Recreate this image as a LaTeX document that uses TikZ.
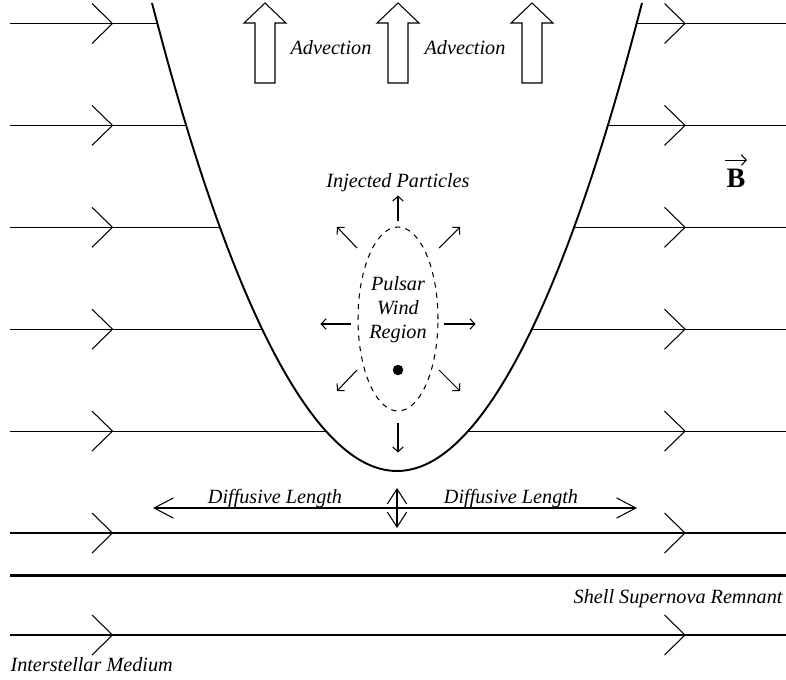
\documentclass[tikz,border=0pt]{standalone}
\usepackage{amsmath}
\usepackage{fontspec}
\setmainfont{Liberation Serif}
\usetikzlibrary{arrows.meta,shapes.geometric,positioning}

\tikzset{
  upblock/.pic={\draw[line width=0.6pt] (-10,80) -- (-10,20) -- (-21,20) -- (0,0) -- (21,20) -- (10,20) -- (10,80) -- cycle;},
  lbl/.style={font=\fontsize{11.5}{14}\selectfont\itshape,inner sep=0pt},
  ray/.style={-{Straight Barb[length=2.8pt,width=6pt]}},
  difftip/.style={{Straight Barb[length=11pt,width=11.5pt]}-{Straight Barb[length=11pt,width=11.5pt]}},
  updowntip/.style={{Straight Barb[length=8.5pt,width=11pt]}-{Straight Barb[length=8.5pt,width=11pt]}}
}

\begin{document}
\begin{tikzpicture}[x=0.02cm,y=-0.02cm,line width=0.6pt]
        \useasboundingbox (0,0) rectangle (786,679);
        \foreach \y in {23.5,125.4,227.3,329.2,431.1,533,635}{
          \draw (10,\y) -- (786,\y);
          \foreach \x in {112.5,685}
            \draw (\x-20.5,\y-20) -- (\x,\y) -- (\x-20.5,\y+20);
        }
        \fill[white] (152,3) parabola bend (397,471) (642,3) -- cycle;
        \draw[line width=1.1pt] (152,3) parabola bend (397,471) (642,3);
        \draw[line width=1.7pt] (10,575) -- (786,575);

        \pic (adv1) at (265,3) {upblock};
        \pic (adv2) at (398,3) {upblock};
        \pic (adv3) at (532,3) {upblock};
        \node[lbl,anchor=base] (advl) at (331,54) {Advection};
        \node[lbl,anchor=base] (advr) at (465,54) {Advection};

        \node[draw,dashed,ellipse,minimum width=1.6cm,minimum height=3.68cm,inner sep=0pt] (pwr) at (398,319) {};
        \node[lbl,anchor=base,align=center] (pwrtxt) at (398,338) {Pulsar\\[-0.5pt]Wind\\[-0.5pt]Region};
        \node[circle,fill,minimum size=0.21cm,inner sep=0pt] (psr) at (398,370) {};
        \node[lbl,anchor=base] (inj) at (398,187) {Injected Particles};

        \draw[ray] ([shift={(0,-5)}]pwr.north) -- ++(0,-26);
        \draw[ray] ([shift={(0,11)}]pwr.south) -- ++(0,30);
        \draw[ray] ([shift={(-6,5)}]pwr.west) -- ++(-31,0);
        \draw[ray] ([shift={(5,5)}]pwr.east) -- ++(32,0);
        \draw[ray] ([shift={(-41,-71)}]pwr.center) -- ++(-20,-21);
        \draw[ray] ([shift={(41,-71)}]pwr.center) -- ++(21,-21);
        \draw[ray] ([shift={(-41,51)}]pwr.center) -- ++(-20,21);
        \draw[ray] ([shift={(41,51)}]pwr.center) -- ++(21,21);

        \coordinate (dl) at (153,508);
        \coordinate (dr) at (637,508);
        \coordinate (dtop) at (397,488);
        \coordinate (dbot) at (397,528);
        \draw[difftip] (dl) -- (dr);
        \draw[updowntip] (dtop) -- (dbot);
        \node[lbl,anchor=base] (dlenl) at (275,503) {Diffusive Length};
        \node[lbl,anchor=base] (dlenr) at (511,503) {Diffusive Length};

        \node[font=\fontsize{16}{18}\selectfont\bfseries,anchor=base,inner sep=0pt] (bfield) at (736,187) {B};
        \draw[ray] ([shift={(-11,-8)}]bfield.north) -- ++(22,0);
        \node[lbl,anchor=base east] (snr) at (783,603) {Shell Supernova Remnant};
        \node[lbl,anchor=base west] (ism) at (10,671) {Interstellar Medium};
    \end{tikzpicture}
\end{document}
